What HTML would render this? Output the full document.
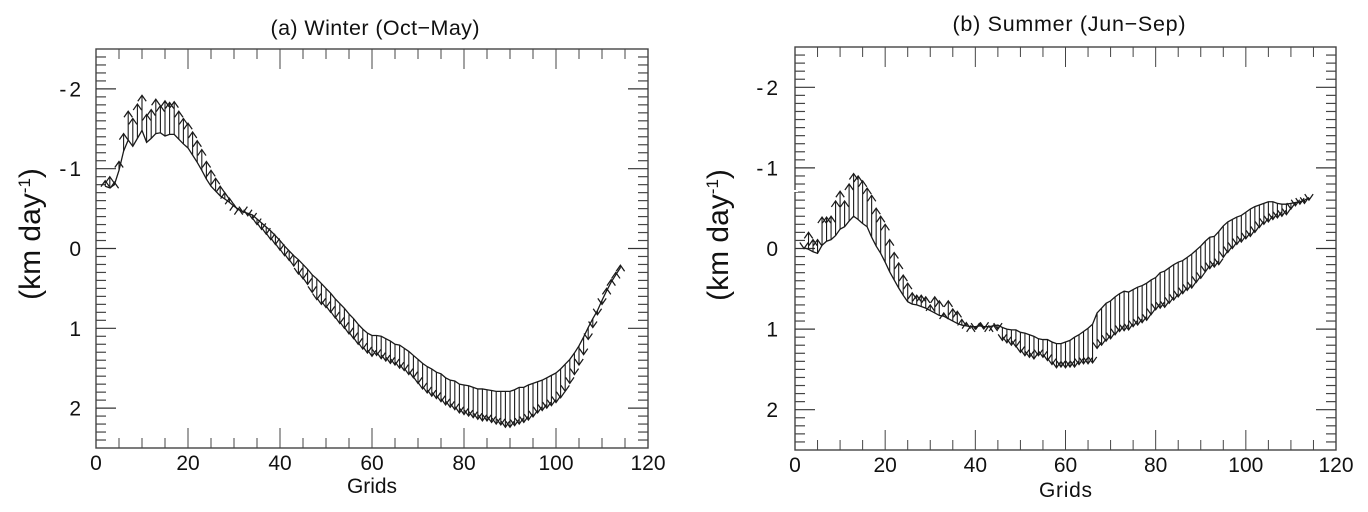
<!DOCTYPE html>
<html lang="en">
<head>
<meta charset="utf-8">
<title>Winter and Summer vector charts</title>
<style>
html,body{margin:0;padding:0;background:#fff;}
#chart-root{display:block;width:1368px;height:512px;}
text{fill:#111;}
</style>
</head>
<body>
<svg id="chart-root" xmlns="http://www.w3.org/2000/svg" width="1368" height="512" viewBox="0 0 1368 512"></svg>
<script>
var firstGrid = 2;
var xTicksMajor = [0, 20, 40, 60, 80, 100, 120];
var yTicksMajor = [-2, -1, 0, 1, 2];
var winterBase = [-.78,-.76,-.80,-.98,-1.22,-1.36,-1.28,-1.38,-1.48,-1.33,-1.38,-1.44,-1.45,-1.41,-1.43,-1.43,-1.37,-1.31,-1.26,-1.17,-1.08,-.98,-.87,-.78,-.72,-.66,-.62,-.58,-.53,-.49,-.46,-.44,-.42,-.37,-.32,-.27,-.22,-.16,-.10,-.03,.03,.09,.14,.20,.26,.33,.38,.44,.5,.56,.63,.69,.75,.82,.88,.95,1.01,1.06,1.09,1.09,1.1,1.13,1.16,1.2,1.21,1.25,1.29,1.34,1.39,1.44,1.48,1.51,1.55,1.57,1.62,1.65,1.66,1.7,1.71,1.72,1.74,1.76,1.76,1.77,1.78,1.79,1.79,1.79,1.79,1.77,1.74,1.74,1.71,1.69,1.67,1.65,1.62,1.59,1.56,1.51,1.45,1.39,1.31,1.22,1.11,.99,.88,.78,.65,.53,.42,.33,.24];
var winterTip = [-.85,-.90,-.83,-1.09,-1.44,-1.72,-1.63,-1.81,-1.92,-1.68,-1.74,-1.87,-1.79,-1.85,-1.83,-1.84,-1.72,-1.63,-1.57,-1.46,-1.35,-1.24,-1.09,-.98,-.88,-.78,-.7,-.63,-.55,-.5,-.45,-.41,-.37,-.3,-.24,-.18,-.11,-.05,.02,.09,.15,.22,.32,.38,.45,.55,.64,.7,.74,.8,.87,.94,1.0,1.07,1.13,1.2,1.26,1.31,1.35,1.34,1.38,1.41,1.44,1.46,1.5,1.53,1.58,1.62,1.69,1.76,1.81,1.85,1.88,1.92,1.96,1.99,2.02,2.06,2.08,2.1,2.12,2.14,2.16,2.16,2.18,2.2,2.21,2.24,2.24,2.22,2.2,2.18,2.15,2.11,2.06,2.03,2.0,1.97,1.93,1.87,1.79,1.69,1.58,1.46,1.33,1.14,.99,.83,.7,.50,.39,.30,.21];
var summerBase = [-.01,.01,.04,.06,-.04,-.09,-.11,-.16,-.24,-.27,-.34,-.4,-.36,-.31,-.27,-.14,-.03,.06,.17,.29,.39,.49,.58,.66,.69,.7,.72,.74,.77,.8,.83,.84,.87,.9,.93,.95,.96,.97,.97,.96,.97,.97,.96,.95,.98,1.0,1.01,1.01,1.04,1.05,1.07,1.09,1.12,1.13,1.13,1.16,1.18,1.18,1.16,1.14,1.1,1.07,1.03,.99,.94,.8,.74,.68,.65,.6,.56,.53,.54,.51,.48,.46,.43,.39,.36,.3,.28,.24,.2,.17,.15,.11,.07,.02,-.03,-.09,-.14,-.15,-.21,-.28,-.33,-.36,-.39,-.41,-.45,-.49,-.52,-.54,-.56,-.58,-.58,-.56,-.55,-.55,-.56,-.57,-.58,-.6,-.63];
var summerTip = [.0,-.2,-.11,-.11,-.39,-.39,-.4,-.59,-.71,-.59,-.8,-.93,-.9,-.84,-.75,-.66,-.5,-.4,-.3,-.11,.05,.18,.33,.43,.55,.58,.58,.6,.7,.6,.65,.8,.65,.75,.78,.88,.92,.96,1.0,.93,.99,.96,.95,1.0,1.14,1.17,1.2,1.22,1.29,1.33,1.35,1.37,1.33,1.35,1.39,1.44,1.48,1.47,1.48,1.47,1.47,1.44,1.43,1.43,1.42,1.24,1.2,1.15,1.12,1.07,1.03,1.02,1.01,.97,.95,.92,.89,.82,.76,.74,.73,.68,.64,.6,.56,.52,.49,.42,.37,.29,.25,.23,.2,.11,.05,0,-.05,-.08,-.12,-.15,-.2,-.26,-.3,-.33,-.36,-.38,-.4,-.42,-.49,-.53,-.55,-.56,-.6];

var NS = 'http://www.w3.org/2000/svg';
var root = document.getElementById('chart-root');
var SANS = '"Liberation Sans",sans-serif';

function mk(tag, parent) {
  var el = document.createElementNS(NS, tag);
  parent.appendChild(el);
  return el;
}
function drawLine(parent, x1, y1, x2, y2, color, width) {
  var l = mk('line', parent);
  l.setAttribute('x1', x1);
  l.setAttribute('y1', y1);
  l.setAttribute('x2', x2);
  l.setAttribute('y2', y2);
  l.setAttribute('stroke', color);
  l.setAttribute('stroke-width', width);
  return l;
}

function drawPanel(key, box, title, titleX, titleY, titleW, base, tip, gridsY, gridsW, labelX, ylabX, ylabY) {
  var g = mk('g', root);
  
  
  function X(v) { return box.left + (v / 120) * (box.right - box.left); }
  function Y(v) { return box.top + ((v + 2.5) / 5) * (box.bottom - box.top); }

  var t = mk('text', g);
  
  
  t.setAttribute('x', titleX);
  t.setAttribute('y', titleY);
  t.setAttribute('text-anchor', 'middle');
  t.setAttribute('font-family', SANS);
  t.setAttribute('font-size', '21.5');
  t.setAttribute('textLength', titleW);
  t.setAttribute('lengthAdjust', 'spacing');
  t.textContent = title;

  var axes = mk('g', g);
  
  

  var frame = mk('rect', axes);
  
  
  frame.setAttribute('x', box.left);
  frame.setAttribute('y', box.top);
  frame.setAttribute('width', box.right - box.left);
  frame.setAttribute('height', box.bottom - box.top);
  frame.setAttribute('fill', 'none');
  frame.setAttribute('stroke', '#444');
  frame.setAttribute('stroke-width', '1.4');

  var i, len, tick;
  for (i = 5; i < 120; i += 5) {
    len = i % 20 === 0 ? 20 : 10;
    tick = drawLine(axes, X(i), box.bottom, X(i), box.bottom - len, '#444', 1);
    
    
    tick = drawLine(axes, X(i), box.top, X(i), box.top + len, '#444', 1);
    
    
  }
  for (i = -24; i <= 24; i++) {
    var major = i % 10 === 0;
    len = major ? 20 : 10;
    tick = drawLine(axes, box.left, Y(i / 10), box.left + len, Y(i / 10), major ? '#333' : '#444', 1.2);
    
    
    tick = drawLine(axes, box.right, Y(i / 10), box.right - len, Y(i / 10), major ? '#333' : '#444', 1.2);
    
    
  }

  xTicksMajor.forEach(function (v) {
    var lab = mk('text', axes);
    
    
    lab.setAttribute('x', X(v));
    lab.setAttribute('y', box.bottom + 22);
    lab.setAttribute('text-anchor', 'middle');
    lab.setAttribute('font-family', SANS);
    lab.setAttribute('font-size', '21');
    lab.textContent = String(v);
  });
  yTicksMajor.forEach(function (v) {
    var lab = mk('text', axes);
    
    
    lab.setAttribute('x', labelX);
    lab.setAttribute('y', Y(v) + 7.5);
    lab.setAttribute('text-anchor', 'end');
    lab.setAttribute('font-family', SANS);
    lab.setAttribute('font-size', '21');
    if (v < 0) {
      lab.appendChild(document.createTextNode('-'));
      var digit = mk('tspan', lab);
      digit.setAttribute('dx', '3');
      digit.textContent = String(Math.abs(v));
    } else {
      lab.textContent = String(v);
    }
  });

  var gx = mk('text', axes);
  
  
  gx.setAttribute('x', X(60));
  gx.setAttribute('y', gridsY);
  gx.setAttribute('text-anchor', 'middle');
  gx.setAttribute('font-family', SANS);
  gx.setAttribute('font-size', '21');
  gx.setAttribute('textLength', gridsW);
  gx.setAttribute('lengthAdjust', 'spacing');
  gx.textContent = 'Grids';

  var gy = mk('text', axes);
  
  
  gy.setAttribute('transform', 'translate(' + ylabX + ',' + ylabY + ') rotate(-90)');
  gy.setAttribute('text-anchor', 'middle');
  gy.setAttribute('font-family', SANS);
  gy.setAttribute('font-size', '30');
  gy.appendChild(document.createTextNode('(km day'));
  var sup = mk('tspan', gy);
  sup.setAttribute('font-size', '17');
  sup.setAttribute('dy', '-10');
  sup.textContent = '-1';
  var closeP = mk('tspan', gy);
  closeP.setAttribute('dy', '10');
  closeP.textContent = ')';

  var series = mk('g', g);
  
  

  var pts = base.map(function (v, idx) {
    return X(firstGrid + idx).toFixed(2) + ',' + Y(v).toFixed(2);
  }).join(' ');
  var poly = mk('polyline', series);
  
  
  poly.setAttribute('points', pts);
  poly.setAttribute('fill', 'none');
  poly.setAttribute('stroke', '#1a1a1a');
  poly.setAttribute('stroke-width', '1.3');

  base.forEach(function (v, idx) {
    var px = X(firstGrid + idx);
    var yb = Y(v);
    var yt = Y(tip[idx]);
    var dir = yt < yb ? 1 : -1;
    var shaft = drawLine(series, px, yb, px, yt, '#1a1a1a', 1.1);
    
    
    var head = mk('polyline', series);
    
    
    head.setAttribute('points',
      (px - 4.2).toFixed(2) + ',' + (yt + dir * 6).toFixed(2) + ' ' +
      px.toFixed(2) + ',' + yt.toFixed(2) + ' ' +
      (px + 4.2).toFixed(2) + ',' + (yt + dir * 6).toFixed(2));
    head.setAttribute('fill', 'none');
    head.setAttribute('stroke', '#1a1a1a');
    head.setAttribute('stroke-width', '1.25');
  });
}

drawPanel('winter', {left: 96, right: 648, top: 49, bottom: 448},
  '(a) Winter (Oct\u2212May)', 375, 35, 209, winterBase, winterTip, 493, 50, 81, 40, 234);
drawPanel('summer', {left: 795, right: 1336, top: 47, bottom: 450},
  '(b) Summer (Jun\u2212Sep)', 1069, 31, 233, summerBase, summerTip, 497, 53, 778, 728, 235);

var notch = mk('rect', root);


notch.setAttribute('x', 792);
notch.setAttribute('y', 190);
notch.setAttribute('width', 6);
notch.setAttribute('height', 2);
notch.setAttribute('fill', '#fff');
</script>
</body>
</html>
